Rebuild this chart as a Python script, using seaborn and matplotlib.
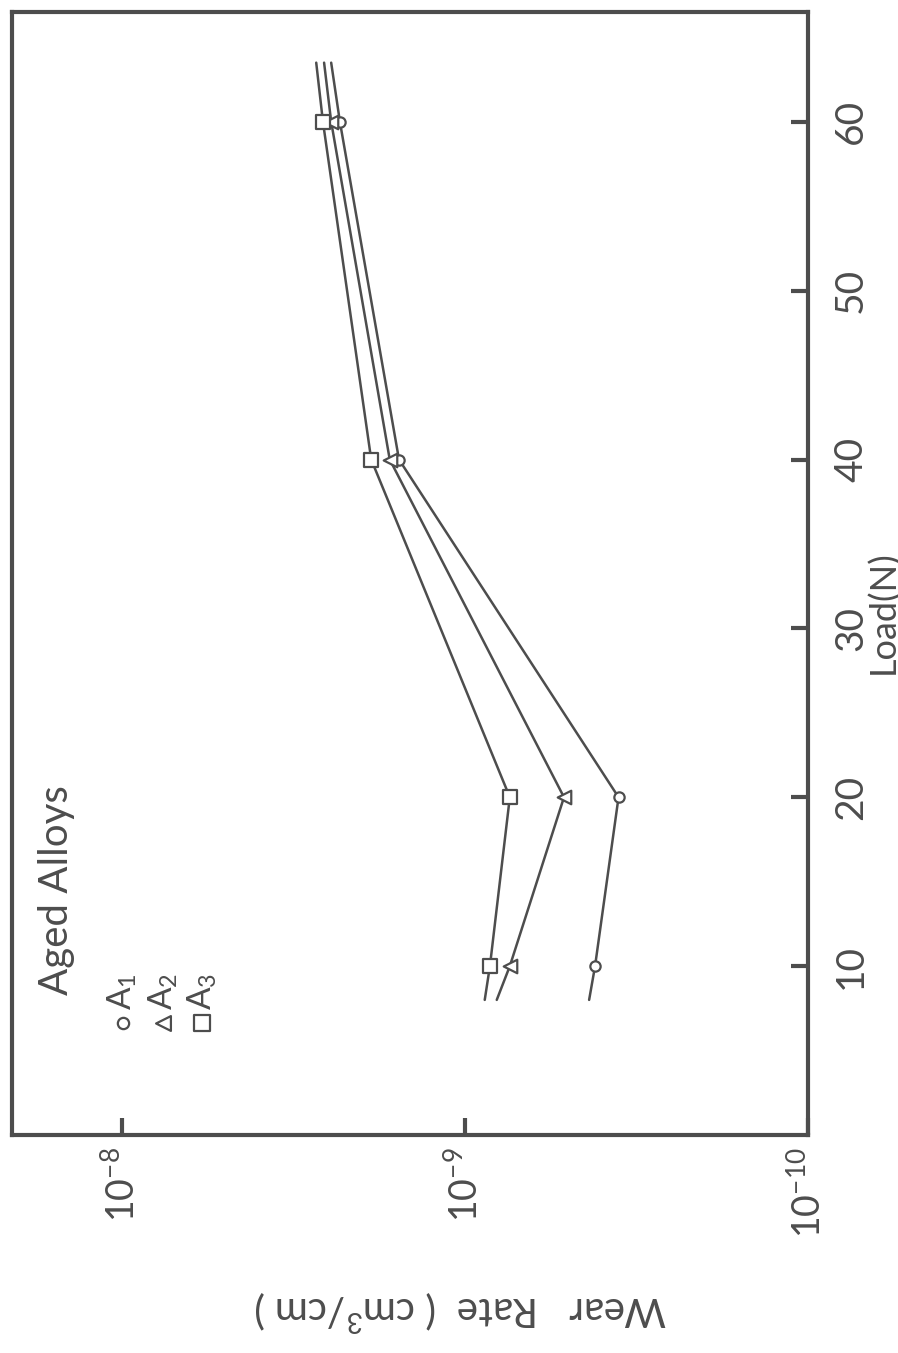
import matplotlib
matplotlib.use("Agg")
import matplotlib.pyplot as plt
import seaborn as sns
import pandas as pd
import numpy as np
from matplotlib.ticker import FixedLocator, NullLocator

loads = [10, 20, 40, 60]
wear_a1 = [4.18e-10, 3.57e-10, 1.56e-9, 2.32e-9]
wear_a2 = [7.41e-10, 5.15e-10, 1.66e-9, 2.46e-9]
wear_a3 = [8.47e-10, 7.41e-10, 1.88e-9, 2.60e-9]
# where the drawn curves run out past the first / last points
end_loads = [8.0, 63.5]
ends_a1 = [4.35e-10, 2.46e-9]
ends_a2 = [8.09e-10, 2.58e-9]
ends_a3 = [8.77e-10, 2.72e-9]

series = ["A1", "A2", "A3"]
wear = {"A1": wear_a1, "A2": wear_a2, "A3": wear_a3}
ends = {"A1": ends_a1, "A2": ends_a2, "A3": ends_a3}
markers = {"A1": "o", "A2": "<", "A3": "s"}
sizes = {"A1": 55, "A2": 95, "A3": 110}

load_ticks = [10, 20, 30, 40, 50, 60]
wear_ticks = [1e-8, 1e-9, 1e-10]
wear_labels = ["$10^{-8}$", "$10^{-9}$", "$10^{-10}$"]

ink = "#4d4d4d"

sns.set_theme(style="white")
plt.rcParams["font.family"] = ["Lato", "DejaVu Sans"]
plt.rcParams["font.weight"] = "normal"
plt.rcParams["mathtext.default"] = "regular"
plt.rcParams["text.color"] = ink

fig = plt.figure(figsize=(8.98, 13.53), dpi=100)
ax = fig.add_axes([12 / 898, 1 - 1135 / 1353, 796 / 898, 1123 / 1353])

# points with the run-out ends, in drawing order
rows = []
for s in series:
    ls = [end_loads[0]] + loads + [end_loads[1]]
    ws = [ends[s][0]] + wear[s] + [ends[s][1]]
    for i, (l, w) in enumerate(zip(ls, ws)):
        rows.append({"alloy": s, "load": l, "wear": w, "order": i})
lines = pd.DataFrame(rows)
pts = pd.DataFrame([{"alloy": s, "load": l, "wear": w}
                    for s in series for l, w in zip(loads, wear[s])])

for s in series:
    sns.lineplot(data=lines[lines.alloy == s], x="wear", y="load", sort=False,
                 estimator=None, orient="y", color=ink, lw=1.8, ax=ax,
                 legend=False)
for s in ["A1", "A2", "A3"]:
    sns.scatterplot(data=pts[pts.alloy == s], x="wear", y="load",
                    marker=markers[s], s=sizes[s], facecolor="white",
                    edgecolor=ink, linewidth=1.6, ax=ax, legend=False,
                    zorder=3)

ax.set_xscale("log")
ax.set_xlim(10 ** -7.678, 1e-10)
ax.set_ylim(0, 66.5)
ax.xaxis.set_major_locator(FixedLocator(wear_ticks))
ax.xaxis.set_minor_locator(NullLocator())
ax.set_xticklabels(wear_labels, rotation=90)
ax.yaxis.tick_right()
ax.set_yticks(load_ticks)
ax.set_yticklabels([str(t) for t in load_ticks], rotation=90, va="center")

ax.tick_params(axis="x", direction="in", length=12, width=3, color=ink,
               pad=9, labelsize=27, labelcolor=ink, bottom=True, top=False)
ax.tick_params(axis="y", direction="in", length=12, width=3, color=ink,
               pad=18, labelsize=28, labelcolor=ink, left=False, right=True)

for sp in ax.spines.values():
    sp.set_color(ink)
    sp.set_linewidth(3)

ax.set_xlabel("Wear   Rate  ( cm$^3$/cm )", fontsize=29, rotation=180,
              color=ink, va="center", ha="center")
ax.xaxis.set_label_coords(0.563, -0.156)
ax.yaxis.set_label_position("right")
ax.set_ylabel("Load(N)", fontsize=26, rotation=90, color=ink,
              va="center", ha="center")
ax.yaxis.set_label_coords(1.095, 0.466)

# legend block, drawn sideways like the rest
ax.text(0.0565, 0.218, "Aged Alloys", transform=ax.transAxes, rotation=90,
        ha="center", va="center", fontsize=29, color=ink)
leg_x = [0.139, 0.190, 0.239]
leg_sub = ["A$_1$", "A$_2$", "A$_3$"]
for s, lx, lab in zip(series, leg_x, leg_sub):
    ax.scatter([lx], [0.0997], transform=ax.transAxes, marker=markers[s],
               s=sizes[s] * 1.2, facecolor="white", edgecolor=ink,
               linewidth=1.6, clip_on=False, zorder=3)
    ax.text(lx, (1135 - 1010) / 1123, lab, transform=ax.transAxes,
            rotation=90, ha="center", va="bottom", fontsize=24, color=ink)

fig.savefig("out.png", dpi=100)
